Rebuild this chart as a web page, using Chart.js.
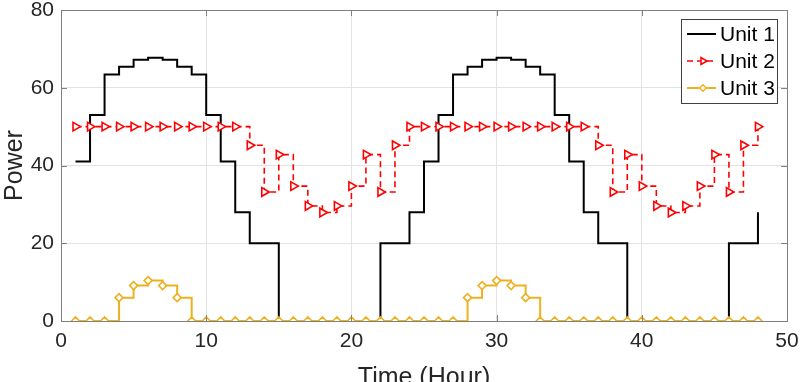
<!DOCTYPE html>
<html>
<head>
<meta charset="utf-8">
<script src="https://cdn.jsdelivr.net/npm/chart.js@4.4.1/dist/chart.umd.min.js"></script>
<style>
  html, body { margin: 0; padding: 0; background: #fff; }
  #wrap { width: 800px; height: 382px; }
</style>
</head>
<body>
<div id="wrap"><canvas id="myChart" width="800" height="382"></canvas></div>
<script>
// hours 1..48
const hours = [];
for (let h = 1; h <= 48; h++) hours.push(h);

const unit1 = [41, 53, 63.4, 65.4, 67.2, 67.7, 67.2, 65.4, 63.4, 53, 41, 28,
               20, 20, 0, 0, 0, 0, 0, 0, 0, 20, 20, 28,
               41, 53, 63.4, 65.4, 67.2, 67.7, 67.2, 65.4, 63.4, 53, 41, 28,
               20, 20, 0, 0, 0, 0, 0, 0, 0, 20, 20, 28];
const unit2 = [50, 50, 50, 50, 50, 50, 50, 50, 50, 50, 50, 50,
               45.2, 33.2, 42.8, 34.7, 29.6, 27.9, 29.6, 34.7, 42.8, 33.2, 45.2, 50,
               50, 50, 50, 50, 50, 50, 50, 50, 50, 50, 50, 50,
               45.2, 33.2, 42.8, 34.7, 29.6, 27.9, 29.6, 34.7, 42.8, 33.2, 45.2, 50];
const unit3 = [0, 0, 0, 6, 9.1, 10.4, 9.1, 6, 0, 0, 0, 0,
               0, 0, 0, 0, 0, 0, 0, 0, 0, 0, 0, 0,
               0, 0, 0, 6, 9.1, 10.4, 9.1, 6, 0, 0, 0, 0,
               0, 0, 0, 0, 0, 0, 0, 0, 0, 0, 0, 0];

const seriesNames = ['Unit 1', 'Unit 2', 'Unit 3'];
const xTicks = [0, 10, 20, 30, 40, 50];
const yTicks = [0, 20, 40, 60, 80];

const FONT = "'Liberation Sans', Arial, sans-serif";
const TEXT = '#262626';

function pts(vals) {
    return hours.map((h, i) => ({ x: h, y: vals[i] }));
}

// no extra room for tick labels that stick out, layout padding decides
function noOverflow(s) {
    s.paddingTop = 0; s.paddingBottom = 0;
    s.paddingLeft = 0; s.paddingRight = 0;
}

// frame, inside ticks, axis titles, legend
const matlabLook = {
    id: 'matlabLook',
    afterDraw(chart) {
        const ctx = chart.ctx;
        const a = chart.chartArea;
        const xs = chart.scales.x, ys = chart.scales.y;
        ctx.save();
        ctx.strokeStyle = '#808080';
        ctx.lineWidth = 1;
        ctx.beginPath();
        xTicks.forEach(v => {
            const px = Math.round(xs.getPixelForValue(v)) + 0.5;
            ctx.moveTo(px, a.bottom); ctx.lineTo(px, a.bottom - 6);
            ctx.moveTo(px, a.top); ctx.lineTo(px, a.top + 6);
        });
        yTicks.forEach(v => {
            const py = Math.round(ys.getPixelForValue(v)) + 0.5;
            ctx.moveTo(a.left, py); ctx.lineTo(a.left + 6, py);
            ctx.moveTo(a.right, py); ctx.lineTo(a.right - 6, py);
        });
        ctx.stroke();
        ctx.strokeRect(Math.round(a.left) + 0.5, Math.round(a.top) + 0.5,
                       Math.round(a.right - a.left), Math.round(a.bottom - a.top));

        // axis titles
        ctx.fillStyle = TEXT;
        ctx.font = '25px ' + FONT;
        ctx.textAlign = 'center';
        ctx.textBaseline = 'alphabetic';
        ctx.fillText('Time (Hour)', (a.left + a.right) / 2, 385);
        ctx.save();
        ctx.translate(22, (a.top + a.bottom) / 2);
        ctx.rotate(-Math.PI / 2);
        ctx.fillText('Power', 0, 0);
        ctx.restore();

        // legend box
        const lx = 681, ly = 19, lw = 96, lh = 84;
        ctx.fillStyle = '#fff';
        ctx.fillRect(lx, ly, lw, lh);
        ctx.strokeStyle = '#404040';
        ctx.strokeRect(lx + 0.5, ly + 0.5, lw, lh);
        const ds = chart.data.datasets;
        ds.forEach((d, i) => {
            const y = ly + 15 + i * 27;
            ctx.save();
            ctx.strokeStyle = d.borderColor;
            ctx.lineWidth = d.borderWidth;
            ctx.setLineDash(d.borderDash || []);
            ctx.beginPath();
            ctx.moveTo(lx + 6, y); ctx.lineTo(lx + 35, y);
            ctx.stroke();
            ctx.restore();
            if (d.pointRadius > 0) {
                ctx.save();
                ctx.strokeStyle = d.pointBorderColor;
                ctx.fillStyle = d.pointBackgroundColor;
                ctx.lineWidth = 1.5;
                Chart.helpers.drawPoint(ctx, {
                    pointStyle: d.pointStyle,
                    rotation: d.pointRotation || 0,
                    radius: d.pointRadius * 0.8,
                    borderWidth: 1.5
                }, lx + 22, y);
                ctx.restore();
            }
            ctx.fillStyle = '#000';
            ctx.font = '21px ' + FONT;
            ctx.textAlign = 'left';
            ctx.textBaseline = 'middle';
            ctx.fillText(seriesNames[i], lx + 39, y + 1);
        });
        ctx.restore();
    }
};

const ctx = document.getElementById('myChart').getContext('2d');
const myChart = new Chart(ctx, {
    type: 'line',
    data: {
        datasets: [{
            label: seriesNames[0],
            data: pts(unit1),
            borderColor: '#000000',
            borderWidth: 2,
            stepped: 'before',
            pointRadius: 0,
            order: 3
        }, {
            label: seriesNames[1],
            data: pts(unit2),
            borderColor: '#ff0000',
            borderWidth: 1.6,
            borderDash: [6, 4],
            stepped: 'before',
            pointStyle: 'triangle',
            pointRotation: 90,
            pointRadius: 5,
            pointBorderColor: '#ff0000',
            pointBackgroundColor: '#ffffff',
            pointBorderWidth: 1.6,
            order: 2
        }, {
            label: seriesNames[2],
            data: pts(unit3),
            borderColor: '#EDB120',
            borderWidth: 2,
            stepped: 'before',
            pointStyle: 'rectRot',
            pointRadius: 4,
            pointBorderColor: '#EDB120',
            pointBackgroundColor: '#ffffff',
            pointBorderWidth: 1.6,
            order: 1
        }]
    },
    options: {
        responsive: false,
        animation: false,
        layout: { padding: { top: 10, right: 13, left: 0, bottom: 0 } },
        plugins: { legend: { display: false }, tooltip: { enabled: false } },
        scales: {
            x: {
                type: 'linear',
                min: 0, max: 50,
                afterFit: s => { s.height = 61; noOverflow(s); },
                afterBuildTicks: s => { s.ticks = xTicks.map(v => ({ value: v })); },
                grid: { color: '#e3e3e3', drawTicks: false },
                border: { display: false },
                ticks: { color: TEXT, font: { family: FONT, size: 21 }, padding: 8, maxRotation: 0 }
            },
            y: {
                min: 0, max: 80,
                afterFit: s => { s.width = 61; noOverflow(s); },
                afterBuildTicks: s => { s.ticks = yTicks.map(v => ({ value: v })); },
                grid: { color: '#e3e3e3', drawTicks: false },
                border: { display: false },
                ticks: { color: TEXT, font: { family: FONT, size: 21 }, padding: 7 }
            }
        }
    },
    plugins: [matlabLook]
});
</script>
</body>
</html>
